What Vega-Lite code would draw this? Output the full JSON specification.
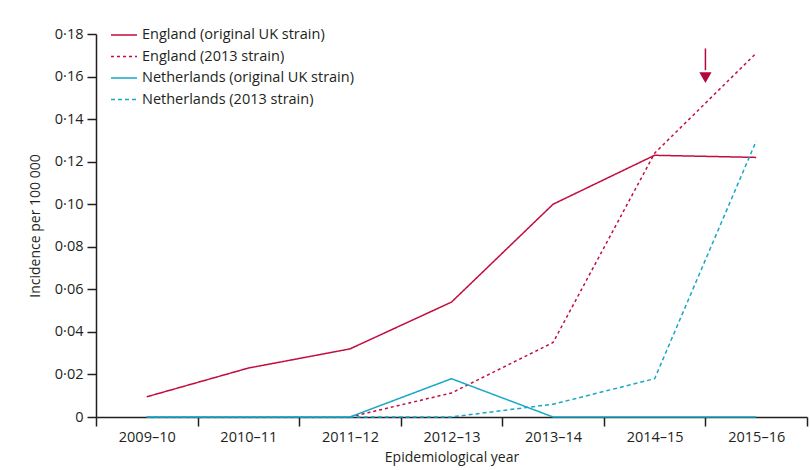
{
  "$schema": "https://vega.github.io/schema/vega-lite/v6.json",
  "width": 711,
  "height": 383,
  "autosize": {"type": "none"},
  "padding": {"left": 96, "top": 34, "right": 3, "bottom": 53},
  "background": "white",
  "config": {
    "view": {"stroke": null},
    "font": "Open Sans",
    "axis": {
      "domainColor": "#231f20",
      "domainWidth": 1.5,
      "tickColor": "#231f20",
      "tickWidth": 1.5,
      "tickSize": 9,
      "labelColor": "#231f20",
      "labelFontSize": 14.5,
      "labelFont": "Open Sans",
      "titleColor": "#231f20",
      "titleFontSize": 14,
      "titleFont": "Open Sans",
      "titleFontWeight": "normal",
      "grid": false
    }
  },
  "datasets": {
    "incidence": [
      {"series": "England (original UK strain)", "year": "2009–10", "value": 0.0095},
      {"series": "England (original UK strain)", "year": "2010–11", "value": 0.023},
      {"series": "England (original UK strain)", "year": "2011–12", "value": 0.032},
      {"series": "England (original UK strain)", "year": "2012–13", "value": 0.054},
      {"series": "England (original UK strain)", "year": "2013–14", "value": 0.100},
      {"series": "England (original UK strain)", "year": "2014–15", "value": 0.123},
      {"series": "England (original UK strain)", "year": "2015–16", "value": 0.122},
      {"series": "England (2013 strain)", "year": "2011–12", "value": 0},
      {"series": "England (2013 strain)", "year": "2012–13", "value": 0.0113},
      {"series": "England (2013 strain)", "year": "2013–14", "value": 0.035},
      {"series": "England (2013 strain)", "year": "2014–15", "value": 0.124},
      {"series": "England (2013 strain)", "year": "2015–16", "value": 0.171},
      {"series": "Netherlands (2013 strain)", "year": "2009–10", "value": 0},
      {"series": "Netherlands (2013 strain)", "year": "2010–11", "value": 0},
      {"series": "Netherlands (2013 strain)", "year": "2011–12", "value": 0},
      {"series": "Netherlands (2013 strain)", "year": "2012–13", "value": 0},
      {"series": "Netherlands (2013 strain)", "year": "2013–14", "value": 0.006},
      {"series": "Netherlands (2013 strain)", "year": "2014–15", "value": 0.018},
      {"series": "Netherlands (2013 strain)", "year": "2015–16", "value": 0.1297},
      {"series": "Netherlands (original UK strain)", "year": "2009–10", "value": 0},
      {"series": "Netherlands (original UK strain)", "year": "2010–11", "value": 0},
      {"series": "Netherlands (original UK strain)", "year": "2011–12", "value": 0},
      {"series": "Netherlands (original UK strain)", "year": "2012–13", "value": 0.018},
      {"series": "Netherlands (original UK strain)", "year": "2013–14", "value": 0},
      {"series": "Netherlands (original UK strain)", "year": "2014–15", "value": 0},
      {"series": "Netherlands (original UK strain)", "year": "2015–16", "value": 0}
    ],
    "marker": [
      {"year": "2014–15", "top": 0.1732, "bottom": 0.163, "head": 0.1595}
    ]
  },
  "layer": [
    {
      "data": {"name": "incidence"},
      "mark": {"type": "line", "strokeWidth": 1.5},
      "encoding": {
        "x": {
          "field": "year",
          "type": "ordinal",
          "bandPosition": 0.5,
          "scale": {"type": "band", "paddingInner": 0, "paddingOuter": 0,
                    "domain": ["2009–10", "2010–11", "2011–12", "2012–13", "2013–14", "2014–15", "2015–16"]},
          "axis": {
            "title": "Epidemiological year",
            "labelAngle": 0,
            "tickBand": "extent",
            "labelPadding": 4,
            "titlePadding": 7
          }
        },
        "y": {
          "field": "value",
          "type": "quantitative",
          "scale": {"domain": [0, 0.18], "nice": false},
          "axis": {
            "title": "Incidence per 100 000",
            "values": [0, 0.02, 0.04, 0.06, 0.08, 0.1, 0.12, 0.14, 0.16, 0.18],
            "labelExpr": "datum.value == 0 ? '0' : replace(format(datum.value, '.2f'), '.', '·')",
            "labelPadding": 4,
            "titlePadding": 12
          }
        },
        "color": {
          "field": "series",
          "type": "nominal",
          "scale": {
            "domain": ["England (original UK strain)", "England (2013 strain)", "Netherlands (original UK strain)", "Netherlands (2013 strain)"],
            "range": ["#c10d3f", "#c10d3f", "#19a7c8", "#19a7c8"]
          },
          "legend": {
            "title": null,
            "orient": "none",
            "legendX": 14,
            "legendY": -13,
            "symbolType": "stroke",
            "symbolSize": 676,
            "symbolStrokeWidth": 1.5,
            "labelFontSize": 14.5,
            "labelFont": "Open Sans",
            "labelColor": "#231f20",
            "labelOffset": 4,
            "rowPadding": 0.5,
            "labelLimit": 400
          }
        },
        "strokeDash": {
          "field": "series",
          "type": "nominal",
          "scale": {
            "domain": ["England (original UK strain)", "England (2013 strain)", "Netherlands (original UK strain)", "Netherlands (2013 strain)"],
            "range": [[1, 0], [3, 3], [1, 0], [4, 3]]
          },
          "legend": null
        }
      }
    },
    {
      "data": {"name": "marker"},
      "mark": {"type": "rule", "color": "#b0083a", "strokeWidth": 1.5},
      "encoding": {
        "x": {"field": "year", "type": "ordinal", "bandPosition": 1},
        "y": {"field": "top", "type": "quantitative"},
        "y2": {"field": "bottom"}
      }
    },
    {
      "data": {"name": "marker"},
      "mark": {"type": "point", "shape": "triangle-down", "filled": true, "color": "#b0083a", "size": 150, "opacity": 1},
      "encoding": {
        "x": {"field": "year", "type": "ordinal", "bandPosition": 1},
        "y": {"field": "head", "type": "quantitative"}
      }
    }
  ]
}
